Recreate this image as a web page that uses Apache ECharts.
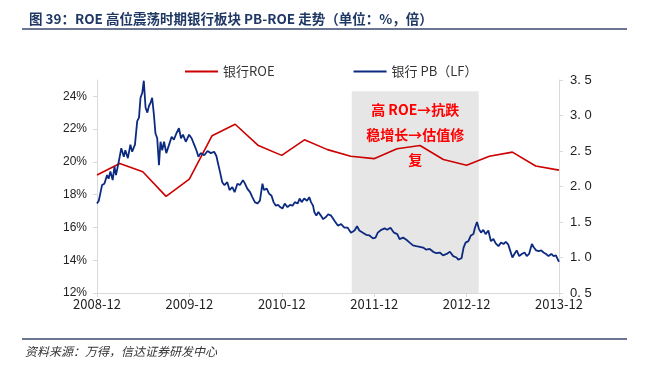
<!DOCTYPE html>
<html>
<head>
<meta charset="utf-8">
<script src="https://cdn.jsdelivr.net/npm/echarts@6/dist/echarts.min.js"></script>
<style>
  html, body { margin: 0; padding: 0; background: #fff; }
  #main { width: 647px; height: 367px; }
</style>
</head>
<body>
<div id="main"></div>
<script>
// 银行ROE（季度，%）
var roeDates = ['2008-12-31','2009-03-31','2009-06-30','2009-09-30','2009-12-31','2010-03-31','2010-06-30',
  '2010-09-30','2010-12-31','2011-03-31','2011-06-30','2011-09-30','2011-12-31','2012-03-31','2012-06-30',
  '2012-09-30','2012-12-31','2013-03-31','2013-06-30','2013-09-30','2013-12-31'];
var roeValues = [19.2,19.9,19.4,17.9,18.95,21.6,22.3,21.0,20.4,21.35,20.75,20.35,20.2,20.8,21.0,20.15,19.8,20.35,20.6,19.75,19.5];

// 银行 PB（LF，倍）
var pbDates = ['2008-12-31','2009-01-07','2009-01-13','2009-01-20','2009-01-29','2009-02-09','2009-02-15','2009-02-22',
  '2009-03-03','2009-03-10','2009-03-16','2009-03-27','2009-04-06','2009-04-16','2009-04-22','2009-05-02','2009-05-12',
  '2009-05-19','2009-05-30','2009-06-08','2009-06-15','2009-06-21','2009-06-28','2009-07-04','2009-07-11','2009-07-18',
  '2009-07-24','2009-07-31','2009-08-06','2009-08-13','2009-08-19','2009-08-26','2009-09-02','2009-09-08','2009-09-15',
  '2009-09-22','2009-10-01','2009-10-12','2009-10-22','2009-10-31','2009-11-10','2009-11-20','2009-11-28','2009-12-06',
  '2009-12-17','2009-12-30','2010-01-09','2010-01-19','2010-01-28','2010-02-05','2010-02-14','2010-02-28','2010-03-13',
  '2010-03-26','2010-04-08','2010-04-17','2010-04-23','2010-05-01','2010-05-10','2010-05-19','2010-05-30','2010-06-08',
  '2010-06-19','2010-06-28','2010-07-09','2010-07-19','2010-07-31','2010-08-08','2010-08-17','2010-08-28','2010-09-06',
  '2010-09-16','2010-09-26','2010-10-06','2010-10-16','2010-10-22','2010-11-02','2010-11-11','2010-11-21','2010-11-29',
  '2010-12-08','2010-12-17','2010-12-25','2011-01-03','2011-01-12','2011-01-23','2011-02-02','2011-02-12','2011-02-21',
  '2011-03-04','2011-03-12','2011-03-20','2011-03-30','2011-04-10','2011-04-19','2011-04-26','2011-05-04','2011-05-09',
  '2011-05-17','2011-05-25','2011-06-04','2011-06-13','2011-06-24','2011-07-03','2011-07-14','2011-07-27','2011-08-10',
  '2011-08-23','2011-09-05','2011-09-18','2011-10-01','2011-10-15','2011-10-25','2011-11-03','2011-11-17','2011-11-30',
  '2011-12-13','2011-12-27','2012-01-06','2012-01-15','2012-01-29','2012-02-11','2012-02-21','2012-03-05','2012-03-19',
  '2012-04-01','2012-04-10','2012-04-24','2012-05-07','2012-05-20','2012-06-02','2012-06-15','2012-06-29','2012-07-12',
  '2012-07-25','2012-08-07','2012-08-21','2012-09-03','2012-09-16','2012-09-29','2012-10-13','2012-10-26','2012-11-08',
  '2012-11-21','2012-11-28','2012-12-11','2012-12-19','2012-12-27','2013-01-07','2013-01-17','2013-01-27','2013-02-02',
  '2013-02-10','2013-02-18','2013-02-26','2013-03-07','2013-03-16','2013-03-27','2013-04-06','2013-04-16','2013-04-25',
  '2013-05-06','2013-05-16','2013-05-26','2013-06-04','2013-06-14','2013-06-22','2013-06-30','2013-07-08','2013-07-17',
  '2013-07-27','2013-08-06','2013-08-17','2013-08-26','2013-09-04','2013-09-15','2013-09-23','2013-10-02','2013-10-12',
  '2013-10-22','2013-10-31','2013-11-10','2013-11-20','2013-12-01','2013-12-10','2013-12-19','2013-12-27','2013-12-31'];
var pbValues = [1.76,1.80,1.90,2.02,2.04,2.16,2.11,2.21,
  2.09,2.28,2.16,2.35,2.54,2.42,2.51,2.40,2.59,
  2.49,2.59,2.92,2.97,3.25,3.32,3.49,3.11,3.04,
  3.13,3.18,3.25,3.01,2.75,2.68,2.30,2.63,2.51,
  2.63,2.47,2.59,2.70,2.66,2.75,2.82,2.68,2.73,
  2.63,2.73,2.68,2.59,2.51,2.42,2.47,2.44,2.50,
  2.47,2.49,2.43,2.33,2.21,2.06,2.02,2.06,1.95,
  1.99,1.92,2.04,2.02,2.09,2.04,1.97,1.92,1.85,
  1.78,1.76,1.80,2.04,1.95,1.97,1.90,1.87,1.78,
  1.73,1.74,1.71,1.69,1.76,1.71,1.74,1.73,1.78,
  1.76,1.83,1.78,1.83,1.80,1.85,1.78,1.73,1.64,
  1.59,1.64,1.59,1.54,1.57,1.61,1.59,1.52,1.45,
  1.47,1.42,1.42,1.35,1.38,1.44,1.38,1.35,1.32,
  1.31,1.27,1.28,1.35,1.39,1.41,1.39,1.42,1.35,
  1.33,1.26,1.28,1.25,1.21,1.17,1.16,1.15,1.14,
  1.11,1.12,1.08,1.06,1.07,1.03,1.05,1.08,1.02,
  1.00,0.97,0.99,1.14,1.21,1.23,1.31,1.33,1.42,
  1.50,1.40,1.35,1.39,1.33,1.38,1.23,1.26,1.20,
  1.16,1.21,1.19,1.22,1.18,1.09,1.00,1.05,1.10,
  1.02,1.05,1.07,1.02,1.05,1.19,1.14,1.10,1.09,
  1.10,1.07,1.05,1.02,1.05,1.02,1.03,0.97,0.94];

var xTickLabels = ['2008-12','2009-12','2010-12','2011-12','2012-12','2013-12'];
var shadeDates = ['2011-10-04', '2013-02-17'];
var shadeTop = 3.34;
var noteLines = ['高 ROE→抗跌', '稳增长→估值修', '复'];

var CJK = '"Noto Sans CJK SC", sans-serif';
var LATIN = '"Liberation Sans", Arial, sans-serif';

// years since 2008-12-31
function toYears(s) {
    var p = s.split('-').map(Number);
    return (Date.UTC(p[0], p[1] - 1, p[2]) - Date.UTC(2008, 11, 31)) / (365.25 * 864e5);
}
function pairs(dates, vals) {
    return dates.map(function (d, i) { return [toYears(d), vals[i]]; });
}

var chart = echarts.init(document.getElementById('main'));

var axisGray = '#d9d9d9';

chart.setOption({
    animation: false,
    title: {
        text: '图 39：ROE 高位震荡时期银行板块 PB-ROE 走势（单位：%，倍）',
        left: 24, top: 7,
        textStyle: { fontFamily: CJK, fontSize: 13.5, fontWeight: 'bold', color: '#1f3864' }
    },
    graphic: [
        { type: 'line', shape: { x1: 22, y1: 29, x2: 627, y2: 29 }, style: { stroke: '#3a4a6b', lineWidth: 1.5 } },
        { type: 'line', shape: { x1: 22, y1: 339, x2: 627, y2: 339 }, style: { stroke: '#3a4a6b', lineWidth: 1.5 } },
        { type: 'text', left: 25, top: 345, style: { text: '资料来源：万得，信达证券研发中心', font: 'italic 12px ' + CJK, fill: '#333' } }
    ],
    legend: {
        data: ['银行ROE', '银行 PB（LF）'],
        left: 180, top: 60,
        icon: 'rect', itemWidth: 33, itemHeight: 2, itemGap: 79,
        textStyle: { fontFamily: CJK, fontSize: 13, color: '#333' }
    },
    grid: { left: 97, right: 88, top: 80, bottom: 74 },
    xAxis: {
        type: 'value', min: 0, max: 5, interval: 1,
        axisLine: { lineStyle: { color: axisGray } },
        axisTick: { show: true, length: 4, lineStyle: { color: axisGray } },
        splitLine: { show: false },
        axisLabel: {
            margin: 5, fontFamily: CJK, fontSize: 13, color: '#222',
            formatter: function (v) { return xTickLabels[Math.round(v)]; }
        }
    },
    yAxis: [{
        type: 'value', position: 'left', min: 12, max: 25, interval: 2,
        axisLine: { show: true, lineStyle: { color: axisGray } },
        axisTick: { show: true, length: 4, lineStyle: { color: axisGray } },
        splitLine: { show: false },
        axisLabel: {
            margin: 10, showMaxLabel: false, fontFamily: LATIN, fontSize: 12, color: '#222',
            formatter: function (v) { return v === 25 ? '' : v + '%'; }
        }
    }, {
        type: 'value', position: 'right', min: 0.5, max: 3.5, interval: 0.5,
        axisLine: { show: true, lineStyle: { color: axisGray } },
        axisTick: { show: true, length: 4, lineStyle: { color: axisGray } },
        splitLine: { show: false },
        axisLabel: {
            margin: 11, fontFamily: LATIN, fontSize: 13, color: '#222',
            formatter: function (v) { return v.toFixed(1).replace('.', '. '); }
        }
    }],
    series: [{
        type: 'line', yAxisIndex: 1, data: [], z: 1, silent: true,
        markArea: {
            silent: true,
            itemStyle: { color: '#e6e6e6' },
            label: {
                show: true, position: 'insideTop', distance: 6,
                fontFamily: CJK, fontSize: 14, fontWeight: 'bold', color: '#ff0000', lineHeight: 25,
                formatter: noteLines.join('\n')
            },
            data: [[
                { xAxis: toYears(shadeDates[0]), yAxis: shadeTop },
                { xAxis: toYears(shadeDates[1]), yAxis: 0.5 }
            ]]
        }
    }, {
        name: '银行ROE', type: 'line', yAxisIndex: 0, z: 3,
        symbol: 'none',
        lineStyle: { color: '#cc0000', width: 1.6 },
        itemStyle: { color: '#cc0000' },
        data: pairs(roeDates, roeValues)
    }, {
        name: '银行 PB（LF）', type: 'line', yAxisIndex: 1, z: 3,
        symbol: 'none',
        lineStyle: { color: '#0c2a80', width: 1.8 },
        itemStyle: { color: '#0c2a80' },
        data: pairs(pbDates, pbValues)
    }]
});
</script>
</body>
</html>
